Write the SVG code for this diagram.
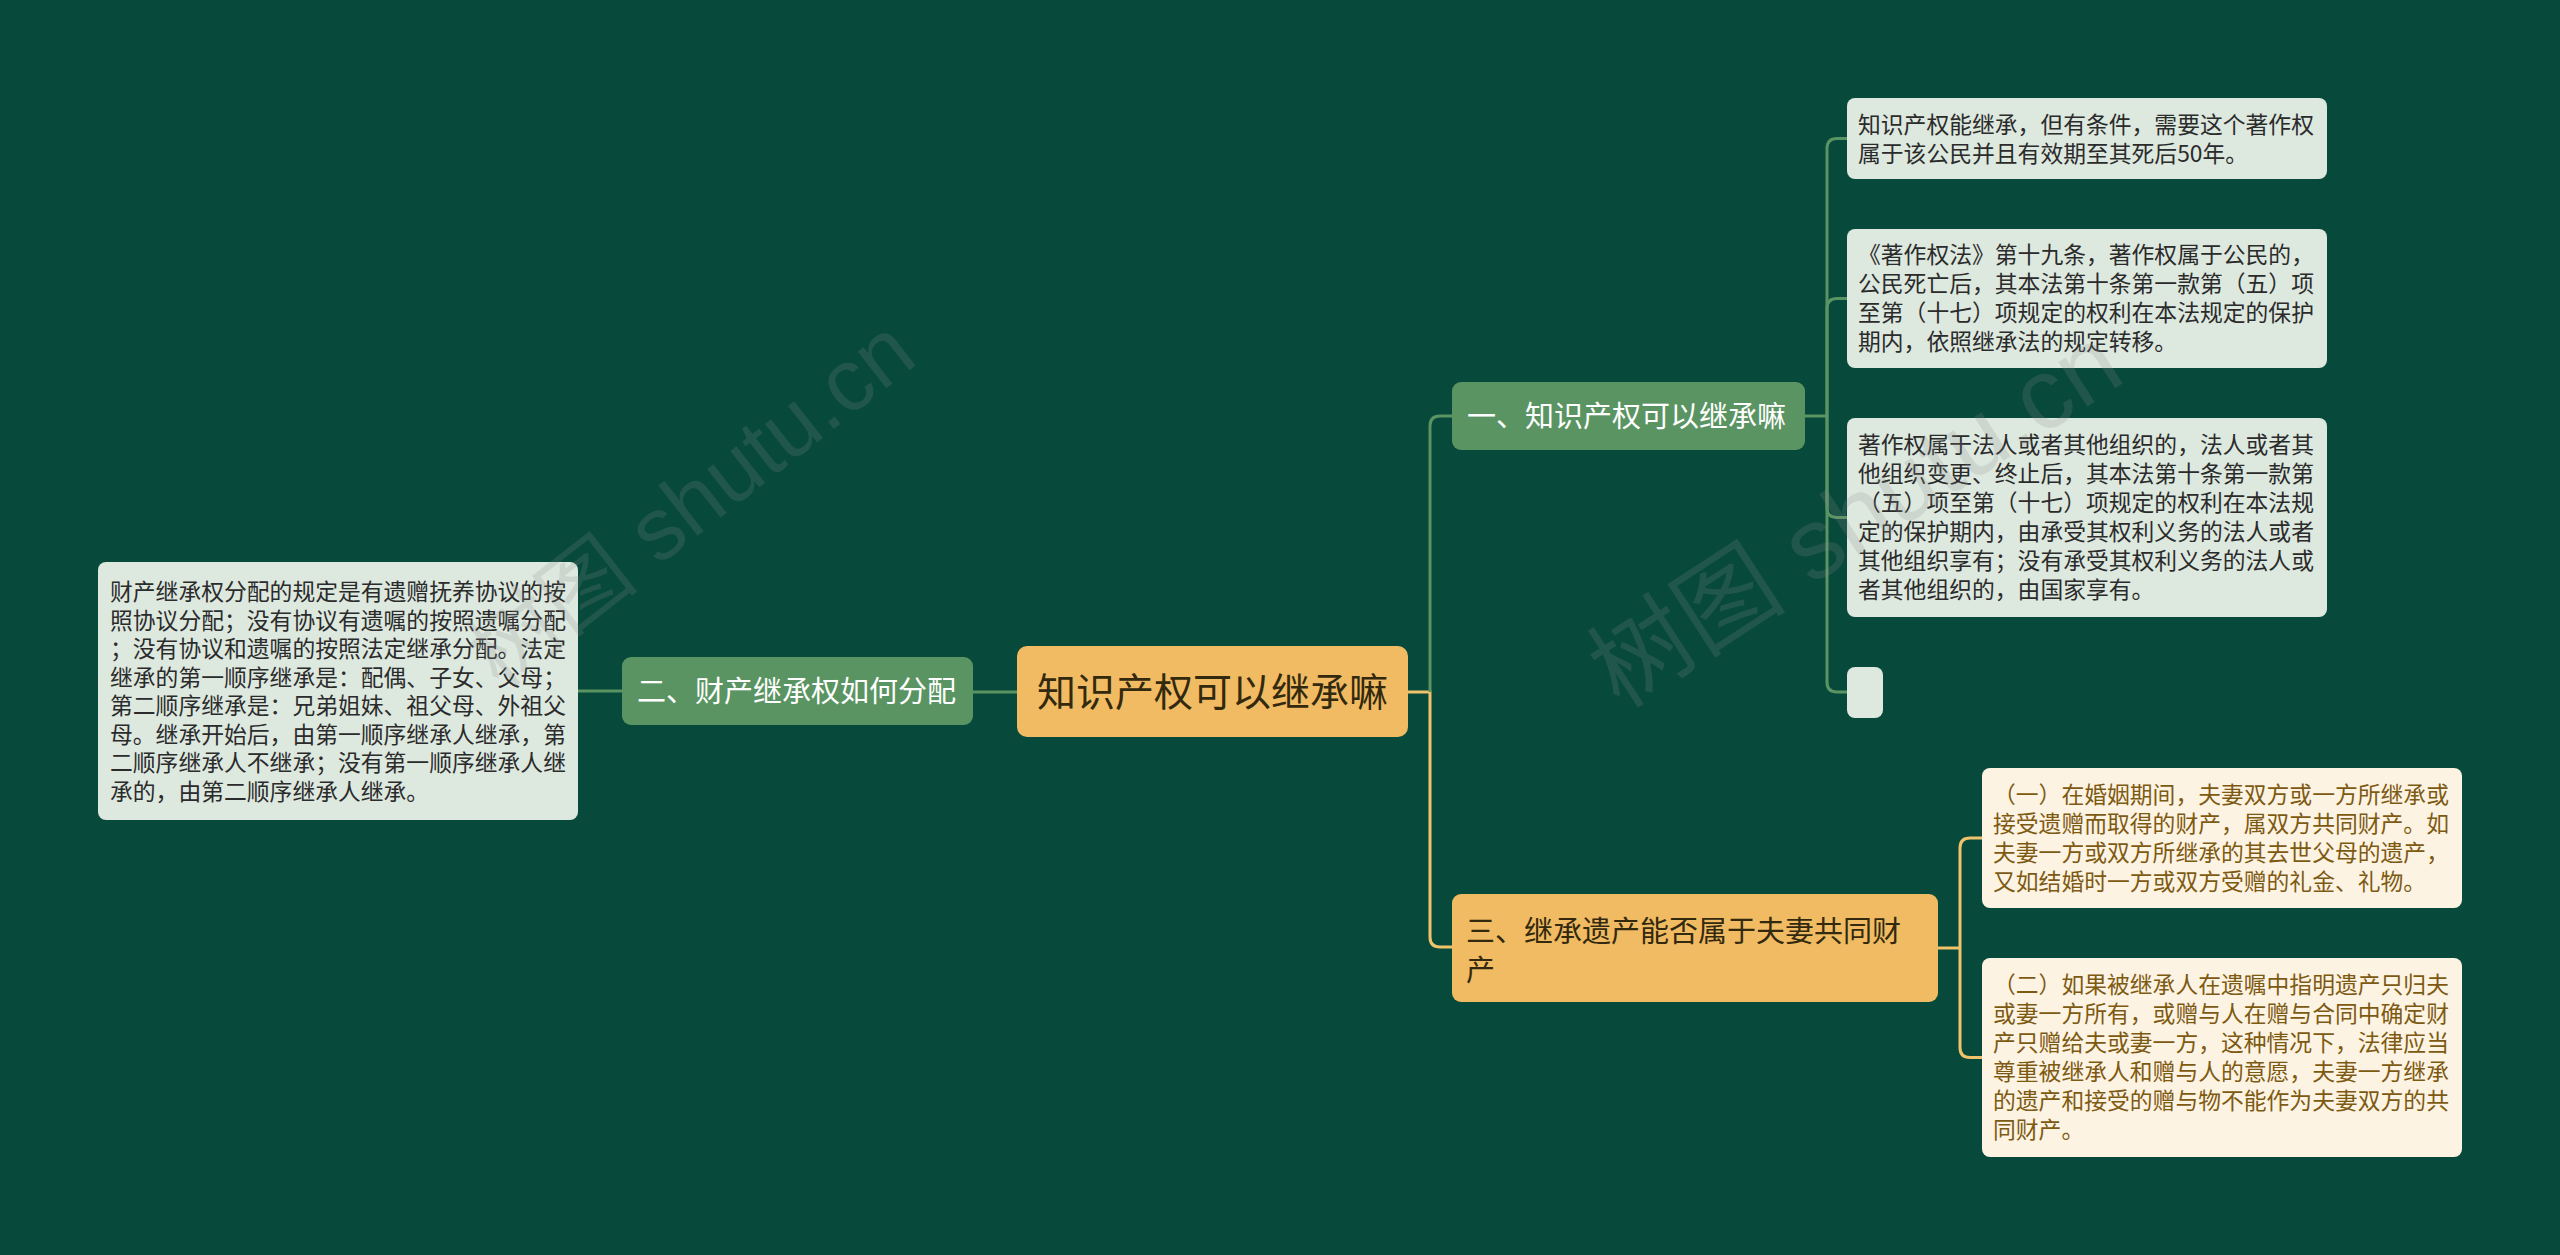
<svg xmlns="http://www.w3.org/2000/svg" width="2560" height="1255" viewBox="0 0 2560 1255">
<style>
.t{font-family:"Noto Sans CJK SC","Noto Sans",sans-serif}
.root rect{fill:#f0bb62}
.root text{fill:#33290f;font-size:39px}
.br rect{fill:#5a9462}
.br text{fill:#ffffff;font-size:29px}
.br3 rect{fill:#f0bb62}
.br3 text{fill:#33290f;font-size:29px}
.lf rect{fill:#dde8df}
.lf text{fill:#2b2b2b;font-size:22.8px}
.cr rect{fill:#fdf3e3}
.cr text{fill:#7d5a12;font-size:22.8px}
.cg{fill:none;stroke:#5a9462;stroke-width:3}
.cy{fill:none;stroke:#f0c36b;stroke-width:3}
.wm{font-family:"Liberation Sans","Noto Sans CJK SC",sans-serif;fill:#8a8a8a;fill-opacity:0.2}
</style>
<rect width="2560" height="1255" fill="#07493a"/>
<g id="connectors">
<path class="cg" d="M1017,692 H973"/>
<path class="cg" d="M622,691 H578"/>
<path class="cy" d="M1408,692 H1430 V937 Q1430,947 1440,947 H1452"/>
<path class="cg" d="M1430,692 V426 Q1430,416 1440,416 H1452"/>
<path class="cg" d="M1805,416 H1827"/>
<path class="cg" d="M1827,416 V148.5 Q1827,138.5 1837,138.5 H1847"/>
<path class="cg" d="M1827,416 V308.5 Q1827,298.5 1837,298.5 H1847"/>
<path class="cg" d="M1827,416 V507.5 Q1827,517.5 1837,517.5 H1847"/>
<path class="cg" d="M1827,416 V682 Q1827,692 1837,692 H1847"/>
<path class="cy" d="M1938,948 H1960"/>
<path class="cy" d="M1960,948 V848 Q1960,838 1970,838 H1982"/>
<path class="cy" d="M1960,948 V1047.5 Q1960,1057.5 1970,1057.5 H1982"/>
</g>
<g id="root" class="root t">
<rect x="1017" y="646" width="391" height="91" rx="10"/>
<text x="1037" y="706">知识产权可以继承嘛</text>
</g>
<g id="branch2" class="br t">
<rect x="622" y="657" width="351" height="68" rx="9"/>
<text x="637" y="702">二、财产继承权如何分配</text>
</g>
<g id="leaf-left" class="lf t">
<rect x="98" y="562" width="480" height="258" rx="8"/>
<text x="110" y="600">
<tspan x="110" y="600">财产继承权分配的规定是有遗赠抚养协议的按</tspan>
<tspan x="110" y="628.5">照协议分配；没有协议有遗嘱的按照遗嘱分配</tspan>
<tspan x="110" y="657">；没有协议和遗嘱的按照法定继承分配。法定</tspan>
<tspan x="110" y="685.5">继承的第一顺序继承是：配偶、子女、父母；</tspan>
<tspan x="110" y="714">第二顺序继承是：兄弟姐妹、祖父母、外祖父</tspan>
<tspan x="110" y="742.5">母。继承开始后，由第一顺序继承人继承，第</tspan>
<tspan x="110" y="771">二顺序继承人不继承；没有第一顺序继承人继</tspan>
<tspan x="110" y="799.5">承的，由第二顺序继承人继承。</tspan>
</text>
</g>
<g id="branch1" class="br t">
<rect x="1452" y="382" width="353" height="68" rx="9"/>
<text x="1467" y="427">一、知识产权可以继承嘛</text>
</g>
<g id="leaf1" class="lf t">
<rect x="1847" y="98" width="480" height="81" rx="8"/>
<text>
<tspan x="1858" y="132.5">知识产权能继承，但有条件，需要这个著作权</tspan>
<tspan x="1858" y="161.5">属于该公民并且有效期至其死后50年。</tspan>
</text>
</g>
<g id="leaf2" class="lf t">
<rect x="1847" y="229" width="480" height="139" rx="8"/>
<text>
<tspan x="1858" y="263">《著作权法》第十九条，著作权属于公民的，</tspan>
<tspan x="1858" y="292">公民死亡后，其本法第十条第一款第（五）项</tspan>
<tspan x="1858" y="321">至第（十七）项规定的权利在本法规定的保护</tspan>
<tspan x="1858" y="350">期内，依照继承法的规定转移。</tspan>
</text>
</g>
<g id="leaf3" class="lf t">
<rect x="1847" y="418" width="480" height="199" rx="8"/>
<text>
<tspan x="1858" y="453">著作权属于法人或者其他组织的，法人或者其</tspan>
<tspan x="1858" y="482">他组织变更、终止后，其本法第十条第一款第</tspan>
<tspan x="1858" y="511">（五）项至第（十七）项规定的权利在本法规</tspan>
<tspan x="1858" y="540">定的保护期内，由承受其权利义务的法人或者</tspan>
<tspan x="1858" y="569">其他组织享有；没有承受其权利义务的法人或</tspan>
<tspan x="1858" y="598">者其他组织的，由国家享有。</tspan>
</text>
</g>
<g id="leaf4" class="lf">
<rect x="1847" y="667" width="36" height="51" rx="8"/>
</g>
<g id="branch3" class="br3 t">
<rect x="1452" y="894" width="486" height="108" rx="9"/>
<text>
<tspan x="1466" y="942">三、继承遗产能否属于夫妻共同财</tspan>
<tspan x="1466" y="981">产</tspan>
</text>
</g>
<g id="leaf5" class="cr t">
<rect x="1982" y="768" width="480" height="140" rx="8"/>
<text>
<tspan x="1993" y="803">（一）在婚姻期间，夫妻双方或一方所继承或</tspan>
<tspan x="1993" y="832">接受遗赠而取得的财产，属双方共同财产。如</tspan>
<tspan x="1993" y="861">夫妻一方或双方所继承的其去世父母的遗产，</tspan>
<tspan x="1993" y="890">又如结婚时一方或双方受赠的礼金、礼物。</tspan>
</text>
</g>
<g id="leaf6" class="cr t">
<rect x="1982" y="958" width="480" height="199" rx="8"/>
<text>
<tspan x="1993" y="993">（二）如果被继承人在遗嘱中指明遗产只归夫</tspan>
<tspan x="1993" y="1022">或妻一方所有，或赠与人在赠与合同中确定财</tspan>
<tspan x="1993" y="1051">产只赠给夫或妻一方，这种情况下，法律应当</tspan>
<tspan x="1993" y="1080">尊重被继承人和赠与人的意愿，夫妻一方继承</tspan>
<tspan x="1993" y="1109">的遗产和接受的赠与物不能作为夫妻双方的共</tspan>
<tspan x="1993" y="1138">同财产。</tspan>
</text>
</g>
<g id="watermarks">
<text class="wm" font-size="88" transform="translate(500,690) rotate(-38)">树图 shutu.cn</text>
<text class="wm" font-size="100" transform="translate(1620,710) rotate(-33)">树图 shutu.cn</text>
</g>
</svg>
